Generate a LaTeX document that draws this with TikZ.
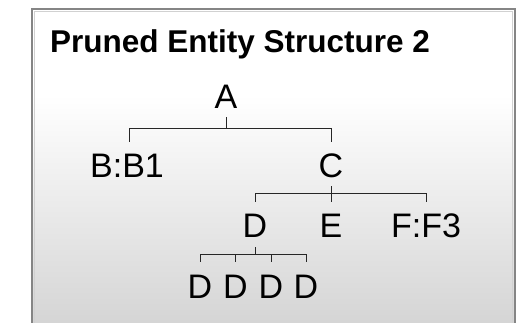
\documentclass[tikz,border=0pt]{standalone}
\usepackage{fontspec}
\setmainfont{Liberation Sans}
\begin{document}
\begin{tikzpicture}[x=1pt,y=-1pt,
  lbl/.style={anchor=base,inner sep=0pt,font=\fontsize{34}{40}\selectfont},
  conn/.style={line width=1pt,draw=black!85}]
\useasboundingbox (0,0) rectangle (529,322);
\clip (0,0) rectangle (529,322);
% panel
\fill[white] (32,9) rectangle (515,95);
\shade[top color=white,bottom color=black!17] (32,95) rectangle (515,330);
\draw[draw=black!48,line width=2.6pt] (32,9) rectangle (515,340);
\draw[draw=black!18,line width=0.8pt] (34.5,11.5) rectangle (512.5,340);
% title
\node[anchor=base west,inner sep=0pt,font=\fontsize{31.5}{36}\selectfont\bfseries] (title) at (50,52) {Pruned Entity Structure 2};
% tree nodes
\node[lbl] (A) at (226,108) {A};
\node[lbl] (B) at (127,177) {B:B1};
\node[lbl] (C) at (331,177) {C};
\node[lbl] (D) at (255,237) {D};
\node[lbl] (E) at (331,237) {E};
\node[lbl] (F) at (426,237) {F:F3};
\node[lbl] (D1) at (200,298) {D};
\node[lbl] (D2) at (235.5,298) {D};
\node[lbl] (D3) at (271,298) {D};
\node[lbl] (D4) at (306,298) {D};
% connectors
\coordinate (ab) at ([yshift=-20pt]A.base);
\draw[conn] ([yshift=-9pt]A.base) -- (ab);
\draw[conn] (ab) -| ([xshift=2pt,yshift=11pt]B.north);
\draw[conn] (ab) -| ([yshift=11pt]C.north);
\coordinate (cb) at ([yshift=-16pt]C.base);
\draw[conn] ([yshift=-9pt]C.base) -- (cb);
\draw[conn] (cb) -| ([yshift=11pt]D.north);
\draw[conn] (cb) -- ([yshift=11pt]E.north);
\draw[conn] (cb) -| ([yshift=11pt]F.north);
\coordinate (db) at ([yshift=-17pt]D.base);
\draw[conn] ([yshift=-10pt]D.base) -- (db);
\draw[conn] (db) -| ([yshift=12pt]D1.north);
\draw[conn] (db) -| ([yshift=12pt]D2.north);
\draw[conn] (db) -| ([yshift=12pt]D3.north);
\draw[conn] (db) -| ([yshift=12pt]D4.north);
\end{tikzpicture}
\end{document}
